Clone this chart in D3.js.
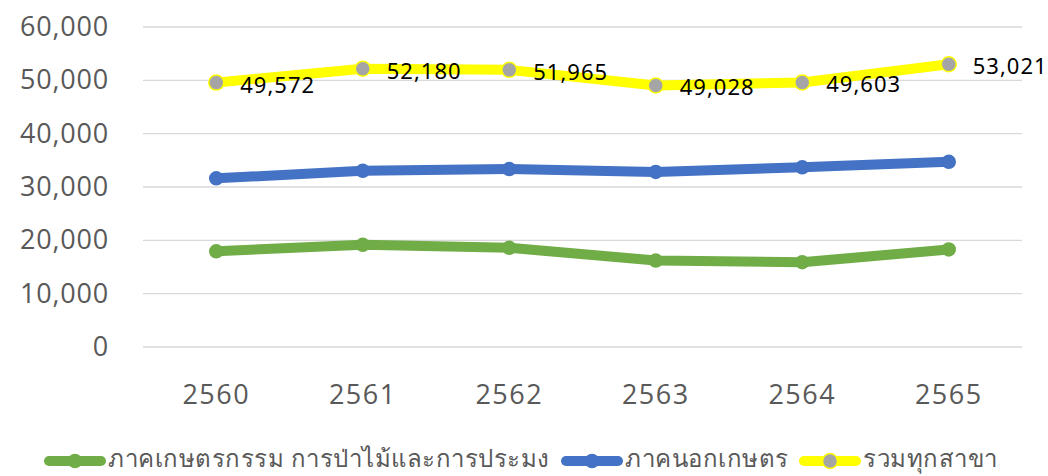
<!DOCTYPE html>
<html>
<head>
<meta charset="utf-8">
<script src="https://cdn.jsdelivr.net/npm/d3@7"></script>
<style>
  body { margin: 0; background: #fff; }
  svg { display: block; }
</style>
</head>
<body>
<div id="chart"></div>
<script>
const years = ["2560", "2561", "2562", "2563", "2564", "2565"];
const agri = [17950, 19150, 18600, 16200, 15900, 18300];
const nonAgri = [31620, 33030, 33365, 32830, 33700, 34720];
const total = [49572, 52180, 51965, 49028, 49603, 53021];
const seriesNames = ["ภาคเกษตรกรรม การป่าไม้และการประมง", "ภาคนอกเกษตร", "รวมทุกสาขา"];
const yTicks = [0, 10000, 20000, 30000, 40000, 50000, 60000];

const width = 1048, height = 476;
const plotLeft = 143, plotRight = 1022, plotTop = 27, plotBottom = 347;

const svg = d3.select("#chart").append("svg")
    .attr("width", width)
    .attr("height", height);

const x = d3.scaleBand().domain(years).range([plotLeft, plotRight]);
const y = d3.scaleLinear().domain([0, 60000]).range([plotBottom, plotTop]);
const fmt = d3.format(",");

// gridlines
svg.append("g")
    .selectAll("line")
    .data(yTicks)
    .join("line")
    .attr("x1", plotLeft).attr("x2", plotRight)
    .attr("y1", d => y(d)).attr("y2", d => y(d))
    .attr("stroke", "#d9d9d9")
    .attr("stroke-width", 1.3);

// y axis labels
const yAxis = svg.append("g")
    .attr("transform", `translate(${plotLeft}, 0)`)
    .call(d3.axisLeft(y).tickValues(yTicks).tickFormat(fmt).tickSize(0).tickPadding(34));
yAxis.select(".domain").remove();
yAxis.selectAll("text")
    .style("font-family", "'Open Sans', sans-serif")
    .style("font-size", "27px")
    .style("letter-spacing", "0.8px")
    .attr("fill", "#595959");

// x axis labels
const xAxis = svg.append("g")
    .attr("transform", `translate(0, ${plotBottom})`)
    .call(d3.axisBottom(x).tickSize(0).tickPadding(38));
xAxis.select(".domain").remove();
xAxis.selectAll("text")
    .style("font-family", "'Open Sans', sans-serif")
    .style("font-size", "27px")
    .style("letter-spacing", "1.5px")
    .attr("fill", "#595959");

const series = [
    { name: seriesNames[0], values: agri, color: "#70ad47", marker: "#70ad47", mstroke: "#70ad47", r: 6.5 },
    { name: seriesNames[1], values: nonAgri, color: "#4472c4", marker: "#4472c4", mstroke: "#4472c4", r: 6.5 },
    { name: seriesNames[2], values: total, color: "#ffff00", marker: "#a5a5a5", mstroke: "#ffff00", r: 7.5 }
];

const line = d3.line()
    .x((d, i) => x(years[i]) + x.bandwidth() / 2)
    .y(d => y(d));

series.forEach(s => {
    svg.append("path")
        .datum(s.values)
        .attr("d", line)
        .attr("fill", "none")
        .attr("stroke", s.color)
        .attr("stroke-width", 10)
        .attr("stroke-linejoin", "round")
        .attr("stroke-linecap", "round");

    svg.append("g")
        .selectAll("circle")
        .data(s.values)
        .join("circle")
        .attr("cx", (d, i) => x(years[i]) + x.bandwidth() / 2)
        .attr("cy", d => y(d))
        .attr("r", s.r)
        .attr("fill", s.marker)
        .attr("stroke", s.mstroke)
        .attr("stroke-width", 1.5);
});

// data labels for total
svg.append("g")
    .selectAll("text")
    .data(total)
    .join("text")
    .attr("x", (d, i) => x(years[i]) + x.bandwidth() / 2 + 24)
    .attr("y", d => y(d) + 4)
    .attr("dominant-baseline", "middle")
    .text(d => fmt(d))
    .style("font-family", "'Noto Sans', sans-serif")
    .style("font-size", "22px")
    .style("letter-spacing", "1px")
    .attr("fill", "#000");

// legend
const legendItems = [
    { x: 45, s: series[0] },
    { x: 562, s: series[1] },
    { x: 800, s: series[2] }
];
legendItems.forEach(item => {
    const g = svg.append("g").attr("transform", `translate(${item.x}, 461)`);
    g.append("line")
        .attr("x1", 4).attr("x2", 56)
        .attr("stroke", item.s.color)
        .attr("stroke-width", 10)
        .attr("stroke-linecap", "round");
    g.append("circle")
        .attr("cx", 30)
        .attr("r", item.s.r)
        .attr("fill", item.s.marker)
        .attr("stroke", item.s.mstroke)
        .attr("stroke-width", 1.5);
    g.append("text")
        .attr("x", 63)
        .attr("y", 0)
        .attr("dominant-baseline", "middle")
        .text(item.s.name)
        .style("font-family", "'Noto Sans', sans-serif")
        .style("font-size", "24px")
        .style("letter-spacing", "0.5px")
        .attr("fill", "#595959");
});
</script>
</body>
</html>
